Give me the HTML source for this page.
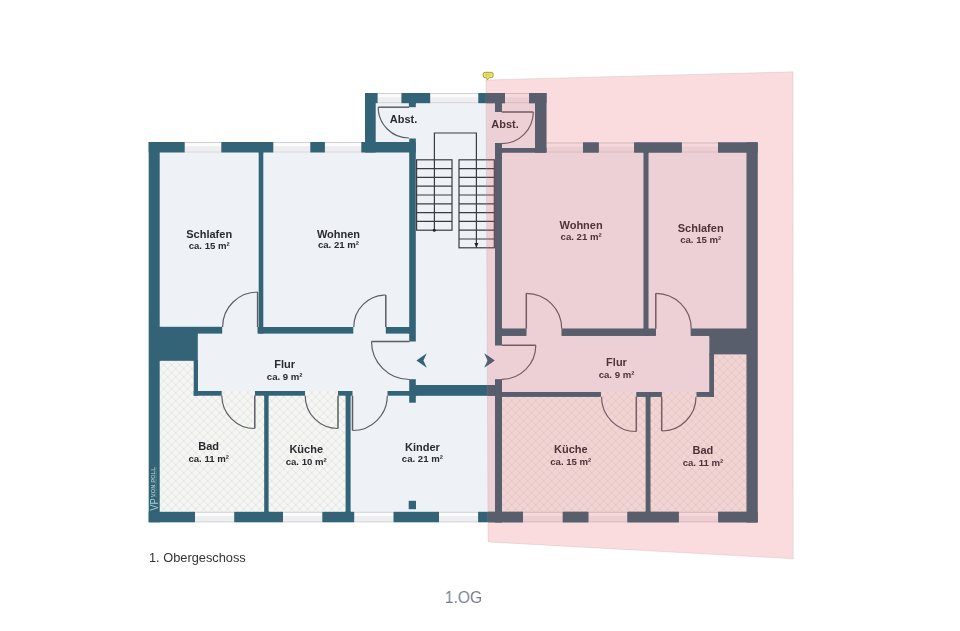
<!DOCTYPE html>
<html lang="de">
<head>
<meta charset="utf-8">
<title>1.OG – Grundriss 1. Obergeschoss</title>
<style>
html,body{margin:0;padding:0;background:#fff;}
body{width:960px;height:631px;overflow:hidden;position:relative;font-family:"Liberation Sans",sans-serif;}
svg,.cap,.ttl{will-change:transform;}
svg{position:absolute;left:0;top:0;display:block;}
.cap{position:absolute;left:148.5px;top:549.6px;font-size:12.8px;line-height:15px;color:#333;white-space:nowrap;}
.ttl{position:absolute;left:0;width:927px;text-align:center;top:586.7px;font-size:17.4px;line-height:20px;color:#737e8d;white-space:nowrap;transform:scaleX(0.9);transform-origin:463.4px 50%;}
</style>
</head>
<body>
<svg width="960" height="631" viewBox="0 0 960 631">
<defs>
<g id="walls"><rect x="148.7" y="142.0" width="11.0" height="380.3"/><rect x="148.7" y="142.0" width="36.0" height="10.5"/><rect x="221.3" y="142.0" width="52.0" height="10.5"/><rect x="310.3" y="142.0" width="14.6" height="10.5"/><rect x="361.3" y="142.0" width="54.5" height="10.5"/><rect x="365.0" y="93.0" width="10.7" height="59.5"/><rect x="365.0" y="93.0" width="12.6" height="10.2"/><rect x="401.4" y="93.0" width="28.8" height="10.2"/><rect x="478.3" y="93.0" width="26.7" height="10.2"/><rect x="529.2" y="93.0" width="17.1" height="10.2"/><rect x="408.9" y="103.2" width="6.9" height="4.0"/><rect x="409.2" y="138.5" width="6.6" height="203.0"/><rect x="409.2" y="379.2" width="6.6" height="23.5"/><rect x="495.0" y="103.0" width="6.8" height="9.0"/><rect x="495.0" y="143.0" width="6.8" height="202.3"/><rect x="495.0" y="379.4" width="7.0" height="142.9"/><rect x="535.0" y="93.0" width="11.3" height="59.5"/><rect x="501.7" y="148.0" width="44.6" height="4.5"/><rect x="583.0" y="142.5" width="15.7" height="10.0"/><rect x="634.2" y="142.5" width="47.5" height="10.0"/><rect x="718.0" y="142.5" width="39.5" height="10.0"/><rect x="746.7" y="142.5" width="10.8" height="379.8"/><rect x="148.7" y="511.8" width="46.3" height="10.5"/><rect x="234.2" y="511.8" width="48.8" height="10.5"/><rect x="322.3" y="511.8" width="31.9" height="10.5"/><rect x="393.5" y="511.8" width="45.5" height="10.5"/><rect x="478.1" y="511.8" width="44.9" height="10.5"/><rect x="562.8" y="511.8" width="25.5" height="10.5"/><rect x="627.5" y="511.8" width="51.2" height="10.5"/><rect x="718.3" y="511.8" width="39.2" height="10.5"/><rect x="258.7" y="152.5" width="4.6" height="181.1"/><rect x="159.7" y="326.8" width="62.5" height="6.8"/><rect x="257.5" y="327.0" width="95.8" height="6.6"/><rect x="385.8" y="327.0" width="23.4" height="6.6"/><rect x="159.7" y="333.6" width="38.1" height="27.2"/><rect x="193.7" y="360.8" width="4.3" height="34.8"/><rect x="193.7" y="391.0" width="28.0" height="4.7"/><rect x="255.0" y="391.0" width="50.0" height="4.7"/><rect x="338.0" y="391.0" width="14.5" height="4.7"/><rect x="387.5" y="391.0" width="21.7" height="4.7"/><rect x="264.2" y="395.7" width="4.4" height="116.1"/><rect x="345.6" y="395.7" width="5.0" height="116.1"/><rect x="415.8" y="385.0" width="79.2" height="10.8"/><rect x="408.7" y="500.8" width="7.3" height="8.4"/><rect x="643.7" y="152.5" width="4.6" height="183.3"/><rect x="501.8" y="328.7" width="24.5" height="7.1"/><rect x="561.7" y="328.7" width="94.1" height="7.1"/><rect x="690.8" y="328.7" width="55.9" height="7.1"/><rect x="709.6" y="335.8" width="37.1" height="18.4"/><rect x="709.5" y="354.2" width="4.5" height="42.5"/><rect x="502.0" y="392.0" width="98.8" height="4.7"/><rect x="636.5" y="392.0" width="25.2" height="4.7"/><rect x="696.7" y="392.0" width="17.3" height="4.7"/><rect x="645.8" y="396.7" width="4.5" height="115.3"/><rect x="158.9" y="326.8" width="1.6" height="6.8"/><rect x="158.9" y="333.6" width="1.6" height="27.2"/><rect x="258.7" y="151.7" width="4.6" height="1.6"/><rect x="408.9" y="102.4" width="6.9" height="1.6"/><rect x="495.0" y="102.2" width="6.8" height="1.8"/><rect x="408.4" y="327.0" width="1.6" height="6.6"/><rect x="408.4" y="391.0" width="1.6" height="4.7"/><rect x="415.0" y="385.0" width="1.6" height="10.8"/><rect x="500.9" y="148.0" width="1.7" height="4.5"/><rect x="501.0" y="328.7" width="1.6" height="7.1"/><rect x="494.2" y="385.0" width="1.6" height="10.8"/><rect x="501.2" y="392.0" width="1.6" height="4.7"/><rect x="643.7" y="151.7" width="4.6" height="1.6"/><rect x="745.9" y="328.7" width="1.6" height="7.1"/><rect x="745.9" y="335.8" width="1.6" height="18.4"/><rect x="264.2" y="511.0" width="4.4" height="1.6"/><rect x="345.6" y="511.0" width="5.0" height="1.6"/><rect x="645.8" y="511.0" width="4.5" height="1.8"/><rect x="159.7" y="332.8" width="38.1" height="1.6"/><rect x="193.7" y="360.0" width="4.1" height="1.6"/><rect x="264.2" y="394.9" width="4.4" height="1.6"/><rect x="345.6" y="394.9" width="5.0" height="1.6"/><rect x="709.6" y="335.0" width="37.1" height="1.6"/><rect x="709.6" y="353.4" width="4.4" height="1.6"/><rect x="645.8" y="395.9" width="4.5" height="1.6"/><path d="M416.4,360.4 L426.8,353.2 L423.4,360.4 L426.8,367.8 Z"/><path d="M494.6,360.4 L484.2,353.2 L487.6,360.4 L484.2,367.8 Z"/></g>
<clipPath id="pinkclip"><polygon points="486,80 793,71.8 793.2,558.8 488.1,541.9"/></clipPath>
<pattern id="hatch" width="8" height="8" patternUnits="userSpaceOnUse" x="159.7" y="360.8">
<rect width="8" height="8" fill="#f6f6f4"/>
<path d="M-1,-1 L9,9 M9,-1 L-1,9" stroke="#dfdfdc" stroke-width="0.85" fill="none"/>
</pattern>
</defs>
<polygon points="148.7,142 365,142 365,93 546.3,93 546.3,142.5 757.5,142.5 757.5,522.2 148.7,522.2" fill="#eef1f6"/>
<polygon points="159.7,360.8 193.7,360.8 193.7,395.7 264.2,395.7 264.2,511.8 159.7,511.8" fill="url(#hatch)"/>
<rect x="268.6" y="395.7" width="76.9" height="116.1" fill="url(#hatch)"/>
<rect x="502.0" y="396.7" width="143.8" height="115.3" fill="url(#hatch)"/>
<polygon points="650.3,396.7 714,396.7 714,354.2 746.7,354.2 746.7,512 650.3,512" fill="url(#hatch)"/>
<rect x="221.7" y="391.0" width="33.3" height="5.0" fill="url(#hatch)"/>
<rect x="305.0" y="391.0" width="33.0" height="5.0" fill="url(#hatch)"/>
<rect x="600.8" y="392.0" width="35.7" height="5.0" fill="url(#hatch)"/>
<rect x="661.7" y="392.0" width="35.0" height="5.0" fill="url(#hatch)"/>
<rect x="184.7" y="142.0" width="36.6" height="10.5" fill="#fbfbfc"/><rect x="184.7" y="146.2" width="36.6" height="5.1" fill="#eeeef0"/><line x1="184.7" y1="142.5" x2="221.3" y2="142.5" stroke="#cfd1d5" stroke-width="1"/><line x1="184.7" y1="152.0" x2="221.3" y2="152.0" stroke="#cfd1d5" stroke-width="1"/>
<rect x="273.3" y="142.0" width="37.0" height="10.5" fill="#fbfbfc"/><rect x="273.3" y="146.2" width="37.0" height="5.1" fill="#eeeef0"/><line x1="273.3" y1="142.5" x2="310.3" y2="142.5" stroke="#cfd1d5" stroke-width="1"/><line x1="273.3" y1="152.0" x2="310.3" y2="152.0" stroke="#cfd1d5" stroke-width="1"/>
<rect x="324.9" y="142.0" width="36.4" height="10.5" fill="#fbfbfc"/><rect x="324.9" y="146.2" width="36.4" height="5.1" fill="#eeeef0"/><line x1="324.9" y1="142.5" x2="361.3" y2="142.5" stroke="#cfd1d5" stroke-width="1"/><line x1="324.9" y1="152.0" x2="361.3" y2="152.0" stroke="#cfd1d5" stroke-width="1"/>
<rect x="377.6" y="93.0" width="23.8" height="10.2" fill="#fbfbfc"/><rect x="377.6" y="97.2" width="23.8" height="4.8" fill="#eeeef0"/><line x1="377.6" y1="93.5" x2="401.4" y2="93.5" stroke="#cfd1d5" stroke-width="1"/><line x1="377.6" y1="102.7" x2="401.4" y2="102.7" stroke="#cfd1d5" stroke-width="1"/>
<rect x="430.2" y="93.0" width="48.1" height="10.2" fill="#fbfbfc"/><rect x="430.2" y="97.2" width="48.1" height="4.8" fill="#eeeef0"/><line x1="430.2" y1="93.5" x2="478.3" y2="93.5" stroke="#cfd1d5" stroke-width="1"/><line x1="430.2" y1="102.7" x2="478.3" y2="102.7" stroke="#cfd1d5" stroke-width="1"/>
<rect x="505.0" y="93.0" width="24.2" height="10.2" fill="#fbfbfc"/><rect x="505.0" y="97.2" width="24.2" height="4.8" fill="#eeeef0"/><line x1="505" y1="93.5" x2="529.2" y2="93.5" stroke="#cfd1d5" stroke-width="1"/><line x1="505" y1="102.7" x2="529.2" y2="102.7" stroke="#cfd1d5" stroke-width="1"/>
<rect x="546.3" y="142.5" width="36.7" height="10.0" fill="#fbfbfc"/><rect x="546.3" y="146.7" width="36.7" height="4.6" fill="#eeeef0"/><line x1="546.3" y1="143.0" x2="583" y2="143.0" stroke="#cfd1d5" stroke-width="1"/><line x1="546.3" y1="152.0" x2="583" y2="152.0" stroke="#cfd1d5" stroke-width="1"/>
<rect x="598.7" y="142.5" width="35.5" height="10.0" fill="#fbfbfc"/><rect x="598.7" y="146.7" width="35.5" height="4.6" fill="#eeeef0"/><line x1="598.7" y1="143.0" x2="634.2" y2="143.0" stroke="#cfd1d5" stroke-width="1"/><line x1="598.7" y1="152.0" x2="634.2" y2="152.0" stroke="#cfd1d5" stroke-width="1"/>
<rect x="681.7" y="142.5" width="36.3" height="10.0" fill="#fbfbfc"/><rect x="681.7" y="146.7" width="36.3" height="4.6" fill="#eeeef0"/><line x1="681.7" y1="143.0" x2="718" y2="143.0" stroke="#cfd1d5" stroke-width="1"/><line x1="681.7" y1="152.0" x2="718" y2="152.0" stroke="#cfd1d5" stroke-width="1"/>
<rect x="195.0" y="511.8" width="39.2" height="10.5" fill="#fbfbfc"/><rect x="195.0" y="516.0" width="39.2" height="5.1" fill="#eeeef0"/><line x1="195" y1="512.3" x2="234.2" y2="512.3" stroke="#cfd1d5" stroke-width="1"/><line x1="195" y1="521.8" x2="234.2" y2="521.8" stroke="#cfd1d5" stroke-width="1"/>
<rect x="283.0" y="511.8" width="39.3" height="10.5" fill="#fbfbfc"/><rect x="283.0" y="516.0" width="39.3" height="5.1" fill="#eeeef0"/><line x1="283" y1="512.3" x2="322.3" y2="512.3" stroke="#cfd1d5" stroke-width="1"/><line x1="283" y1="521.8" x2="322.3" y2="521.8" stroke="#cfd1d5" stroke-width="1"/>
<rect x="354.2" y="511.8" width="39.3" height="10.5" fill="#fbfbfc"/><rect x="354.2" y="516.0" width="39.3" height="5.1" fill="#eeeef0"/><line x1="354.2" y1="512.3" x2="393.5" y2="512.3" stroke="#cfd1d5" stroke-width="1"/><line x1="354.2" y1="521.8" x2="393.5" y2="521.8" stroke="#cfd1d5" stroke-width="1"/>
<rect x="439.0" y="511.8" width="39.1" height="10.5" fill="#fbfbfc"/><rect x="439.0" y="516.0" width="39.1" height="5.1" fill="#eeeef0"/><line x1="439" y1="512.3" x2="478.1" y2="512.3" stroke="#cfd1d5" stroke-width="1"/><line x1="439" y1="521.8" x2="478.1" y2="521.8" stroke="#cfd1d5" stroke-width="1"/>
<rect x="523.0" y="511.8" width="39.8" height="10.5" fill="#fbfbfc"/><rect x="523.0" y="516.0" width="39.8" height="5.1" fill="#eeeef0"/><line x1="523" y1="512.3" x2="562.8" y2="512.3" stroke="#cfd1d5" stroke-width="1"/><line x1="523" y1="521.8" x2="562.8" y2="521.8" stroke="#cfd1d5" stroke-width="1"/>
<rect x="588.3" y="511.8" width="39.2" height="10.5" fill="#fbfbfc"/><rect x="588.3" y="516.0" width="39.2" height="5.1" fill="#eeeef0"/><line x1="588.3" y1="512.3" x2="627.5" y2="512.3" stroke="#cfd1d5" stroke-width="1"/><line x1="588.3" y1="521.8" x2="627.5" y2="521.8" stroke="#cfd1d5" stroke-width="1"/>
<rect x="678.7" y="511.8" width="39.6" height="10.5" fill="#fbfbfc"/><rect x="678.7" y="516.0" width="39.6" height="5.1" fill="#eeeef0"/><line x1="678.7" y1="512.3" x2="718.3" y2="512.3" stroke="#cfd1d5" stroke-width="1"/><line x1="678.7" y1="521.8" x2="718.3" y2="521.8" stroke="#cfd1d5" stroke-width="1"/>
<use href="#walls" fill="#336376"/>
<path d="M257.6,327.0 L257.6,292.0" fill="none" stroke="#5a5e66" stroke-width="1.5"/><path d="M257.6,292.0 A35.0,35.0 0 0 0 222.6,327.0" fill="none" stroke="#5a5e66" stroke-width="1.2"/>
<path d="M385.8,327.0 L385.8,295.0" fill="none" stroke="#5a5e66" stroke-width="1.5"/><path d="M385.8,295.0 A32.0,32.0 0 0 0 353.8,327.0" fill="none" stroke="#5a5e66" stroke-width="1.2"/>
<path d="M409.5,341.5 L371.5,341.5" fill="none" stroke="#5a5e66" stroke-width="1.5"/><path d="M371.5,341.5 A38.0,38.0 0 0 0 409.5,379.5" fill="none" stroke="#5a5e66" stroke-width="1.2"/>
<path d="M254.8,395.5 L254.8,428.5" fill="none" stroke="#5a5e66" stroke-width="1.5"/><path d="M254.8,428.5 A33.0,33.0 0 0 1 221.8,395.5" fill="none" stroke="#5a5e66" stroke-width="1.2"/>
<path d="M338.0,395.7 L338.0,428.5" fill="none" stroke="#5a5e66" stroke-width="1.5"/><path d="M338.0,428.5 A32.8,32.8 0 0 1 305.2,395.7" fill="none" stroke="#5a5e66" stroke-width="1.2"/>
<path d="M352.5,395.7 L352.5,430.5" fill="none" stroke="#5a5e66" stroke-width="1.5"/><path d="M352.5,430.5 A34.8,34.8 0 0 0 387.3,395.7" fill="none" stroke="#5a5e66" stroke-width="1.2"/>
<path d="M409.0,107.2 L378.2,107.2" fill="none" stroke="#5a5e66" stroke-width="1.5"/><path d="M378.2,107.2 A30.8,30.8 0 0 0 409.0,138.0" fill="none" stroke="#5a5e66" stroke-width="1.2"/>
<path d="M501.7,112.0 L533.3,112.0" fill="none" stroke="#5a5e66" stroke-width="1.5"/><path d="M533.3,112.0 A31.6,31.6 0 0 1 501.7,143.6" fill="none" stroke="#5a5e66" stroke-width="1.2"/>
<path d="M501.7,345.3 L535.8,345.3" fill="none" stroke="#5a5e66" stroke-width="1.5"/><path d="M535.8,345.3 A34.1,34.1 0 0 1 501.7,379.4" fill="none" stroke="#5a5e66" stroke-width="1.2"/>
<path d="M526.3,328.7 L526.3,293.3" fill="none" stroke="#5a5e66" stroke-width="1.5"/><path d="M526.3,293.3 A35.4,35.4 0 0 1 561.7,328.7" fill="none" stroke="#5a5e66" stroke-width="1.2"/>
<path d="M655.8,328.7 L655.8,293.3" fill="none" stroke="#5a5e66" stroke-width="1.5"/><path d="M655.8,293.3 A35.4,35.4 0 0 1 691.2,328.7" fill="none" stroke="#5a5e66" stroke-width="1.2"/>
<path d="M636.3,396.7 L636.3,431.5" fill="none" stroke="#5a5e66" stroke-width="1.5"/><path d="M636.3,431.5 A34.8,34.8 0 0 1 601.5,396.7" fill="none" stroke="#5a5e66" stroke-width="1.2"/>
<path d="M661.7,396.7 L661.7,431.0" fill="none" stroke="#5a5e66" stroke-width="1.5"/><path d="M661.7,431.0 A34.3,34.3 0 0 0 696.0,396.7" fill="none" stroke="#5a5e66" stroke-width="1.2"/>
<g stroke="#3a3c42" stroke-width="1.2"><path d="M434.4,230.2 V133 H476.4 V247.8" fill="none"/><rect x="416.6" y="159.8" width="35.4" height="70.4" fill="none"/><rect x="459" y="159.8" width="35.3" height="88.0" fill="none"/><line x1="416.6" x2="452" y1="168.6" y2="168.6"/><line x1="416.6" x2="452" y1="177.4" y2="177.4"/><line x1="416.6" x2="452" y1="186.2" y2="186.2"/><line x1="416.6" x2="452" y1="195.0" y2="195.0"/><line x1="416.6" x2="452" y1="203.8" y2="203.8"/><line x1="416.6" x2="452" y1="212.6" y2="212.6"/><line x1="416.6" x2="452" y1="221.4" y2="221.4"/><line x1="459" x2="494.3" y1="168.6" y2="168.6"/><line x1="459" x2="494.3" y1="177.4" y2="177.4"/><line x1="459" x2="494.3" y1="186.2" y2="186.2"/><line x1="459" x2="494.3" y1="195.0" y2="195.0"/><line x1="459" x2="494.3" y1="203.8" y2="203.8"/><line x1="459" x2="494.3" y1="212.6" y2="212.6"/><line x1="459" x2="494.3" y1="221.4" y2="221.4"/><line x1="459" x2="494.3" y1="230.2" y2="230.2"/><line x1="459" x2="494.3" y1="239.0" y2="239.0"/></g>
<circle cx="434.3" cy="230.2" r="1.5" fill="#222"/>
<path d="M474.4,243 H478.4 L476.4,247.8 Z" fill="#222"/>
<g transform="translate(158.3,510.8) rotate(-90)" fill="#a9cdd0" font-family="'Liberation Sans', sans-serif"><text x="0" y="0" font-size="10.4" textLength="12.6" lengthAdjust="spacingAndGlyphs">VP</text><text x="13.6" y="-3.7" font-size="4.6" font-weight="bold" textLength="30" lengthAdjust="spacingAndGlyphs" fill-opacity="0.85">VON POLL</text><text x="13.6" y="-0.9" font-size="2.6" textLength="30" lengthAdjust="spacingAndGlyphs" fill-opacity="0.4">IMMOBILIEN</text></g>
<g font-family="'Liberation Sans', sans-serif" font-weight="bold" fill="#2a2a30" text-anchor="middle"><text x="209.2" y="238.1" font-size="11" >Schlafen</text><text x="209.2" y="249.3" font-size="9.6">ca. 15 m²</text><text x="338.5" y="237.6" font-size="11" >Wohnen</text><text x="338.5" y="248.4" font-size="9.6">ca. 21 m²</text><text x="284.7" y="368.4" font-size="11" >Flur</text><text x="284.7" y="380" font-size="9.6">ca. 9 m²</text><text x="208.7" y="449.7" font-size="11" >Bad</text><text x="208.7" y="461.7" font-size="9.6">ca. 11 m²</text><text x="306.2" y="453" font-size="11" >Küche</text><text x="306.2" y="465" font-size="9.6">ca. 10 m²</text><text x="422.4" y="451" font-size="11" >Kinder</text><text x="422.4" y="462.3" font-size="9.6">ca. 21 m²</text><text x="581.1" y="228.8" font-size="11" >Wohnen</text><text x="581.1" y="240.1" font-size="9.6">ca. 21 m²</text><text x="700.7" y="232.1" font-size="11" >Schlafen</text><text x="700.7" y="243.4" font-size="9.6">ca. 15 m²</text><text x="616.5" y="366.2" font-size="11" >Flur</text><text x="616.5" y="377.5" font-size="9.6">ca. 9 m²</text><text x="570.8" y="453" font-size="11" >Küche</text><text x="570.8" y="465" font-size="9.6">ca. 15 m²</text><text x="702.9" y="454.2" font-size="11" >Bad</text><text x="702.9" y="466.3" font-size="9.6">ca. 11 m²</text><text x="403.6" y="123.2" font-size="11">Abst.</text><text x="505" y="127.5" font-size="11">Abst.</text></g>
<polygon points="486,80 793,71.8 793.2,558.8 488.1,541.9" fill="rgb(230,80,90)" fill-opacity="0.2"/>
<polygon points="486,80 793,71.8 793.2,558.8 488.1,541.9" fill="none" stroke="#b9a3a6" stroke-opacity="0.35" stroke-width="0.8"/>
<use href="#walls" fill="#585e6c" clip-path="url(#pinkclip)"/>
<g transform="translate(483,71.9)"><path d="M2.2,0.4 H8.2 Q10.2,0.4 10.2,2.4 V3.8 Q10.2,5.8 8.2,5.8 H6.4 L4.3,7.9 L3.4,5.8 H2.2 Q0.2,5.8 0.2,3.8 V2.4 Q0.2,0.4 2.2,0.4 Z" fill="#efe465" stroke="#8f8a2e" stroke-width="0.8"/><path d="M2.4,2.3 H8 M2.4,3.9 H6.8" stroke="#c2b640" stroke-width="0.5" fill="none"/></g>
</svg>
<div class="cap">1. Obergeschoss</div>
<div class="ttl">1.OG</div>
</body>
</html>
